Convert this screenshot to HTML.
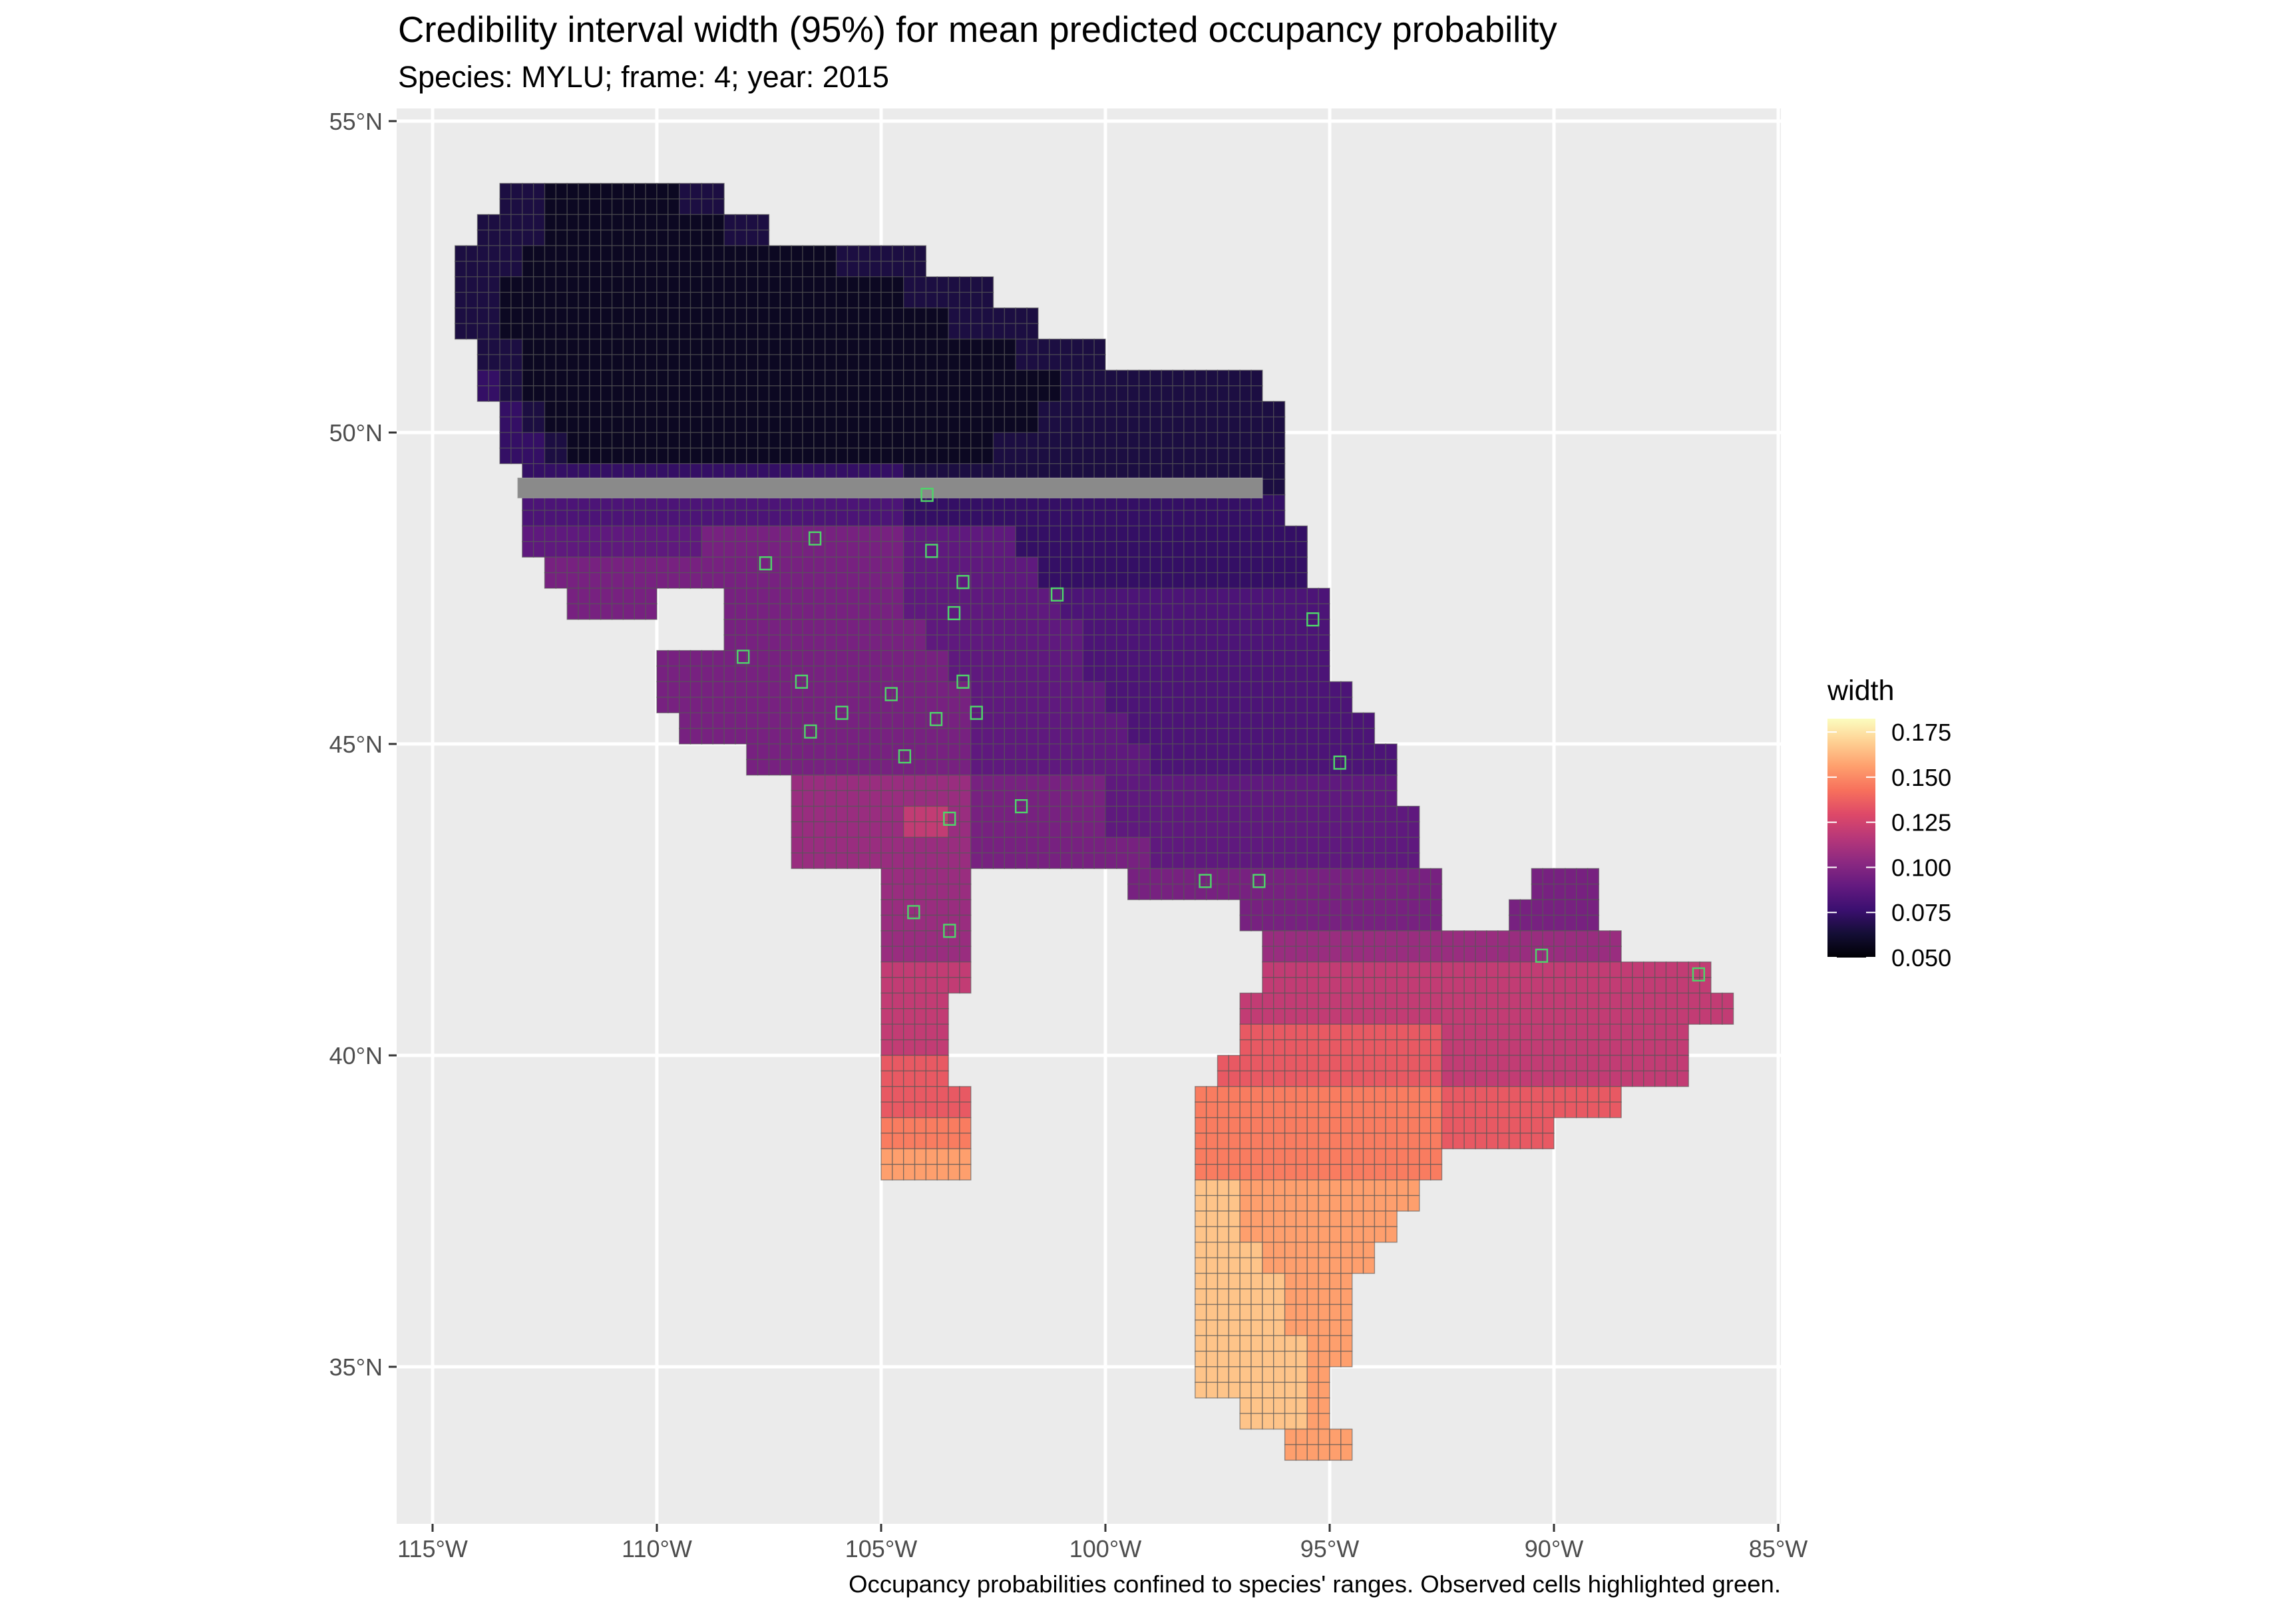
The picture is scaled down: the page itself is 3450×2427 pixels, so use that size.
<!DOCTYPE html>
<html><head><meta charset="utf-8"><title>Credibility interval width</title>
<style>
html,body{margin:0;padding:0;background:#fff;}
svg{display:block;font-family:"Liberation Sans",Arial,sans-serif;}
</style></head>
<body>
<svg id="chart" width="3450" height="2427" viewBox="0 0 3450 2427" xmlns="http://www.w3.org/2000/svg">
<defs>
<linearGradient id="magma" x1="0" y1="1" x2="0" y2="0"></linearGradient>
</defs>
<text x="598" y="63" font-size="54.5" fill="#000">Credibility interval width (95%) for mean predicted occupancy probability</text>
<text x="598" y="131" font-size="45" fill="#000">Species: MYLU; frame: 4; year: 2015</text>
<rect x="596" y="163" width="2080" height="2127" fill="#ebebeb"/>
<g id="grid"></g>
<g id="cells"></g>
<g id="band"></g>
<g id="obs"></g>
<g id="axes"></g>
<g id="legend"></g>
<text x="2676" y="2393" font-size="36.5" text-anchor="end" fill="#000">Occupancy probabilities confined to species' ranges. Observed cells highlighted green.</text>
</svg>
<script>
const lonTicks = [-115, -110, -105, -100, -95, -90, -85];
const lonLabels = ["115°W","110°W","105°W","100°W","95°W","90°W","85°W"];
const latTicks = [55, 50, 45, 40, 35];
const latLabels = ["55°N","50°N","45°N","40°N","35°N"];
const legendTicks = [0.05, 0.075, 0.1, 0.125, 0.15, 0.175];
const legendLabels = ["0.050","0.075","0.100","0.125","0.150","0.175"];
const legendDomain = [0.05, 0.1824];
const levelCodes = "0123456789ab";
const levelValues = [0.058,0.066,0.074,0.082,0.088,0.096,0.107,0.12,0.135,0.146,0.156,0.166];
// grid origin: lat 54.5 top, lon -115 left, 0.5 deg cells; rows of [startCol, codes]
const gridRows = [
 [],
 [[3,"1100000011"]],
 [[2,"1110000000011"]],
 [[1,"111000000000000001111"]],
 [[1,"110000000000000000001111"]],
 [[1,"11000000000000000000001111"]],
 [[2,"1100000000000000000000001111"]],
 [[2,"21000000000000000000000000111111111"]],
 [[3,"21000000000000000000000011111111111"]],
 [[3,"22100000000000000000001111111111111"]],
 [[4,"2222222222222222211111111111111111"]],
 [[4,"3333333333333333322222222222222222"]],
 [[4,"44444444555555555444442222222222222"]],
 [[5,"5555555555555555444444222222222222"]],
 [[6,"5555"],[13,"555555554444444333333333333"]],
 [[13,"555555555444444433333333333"]],
 [[10,"555555555555544444433333333333"]],
 [[10,"5555555555555544444433333333333"]],
 [[11,"5555555555555444444433333333333"]],
 [[14,"55555555554444444433333333333"]],
 [[16,"666666665555554444444444444"]],
 [[16,"6666677655555544444444444444"]],
 [[16,"6666666655555555444444444444"]],
 [[20,"6666"],[31,"55555555555555"],[49,"555"]],
 [[20,"6666"],[36,"555555555"],[48,"5555"]],
 [[20,"6666"],[37,"6666666666666666"]],
 [[20,"7777"],[37,"77777777777777777777"]],
 [[20,"777"],[36,"7777777777777777777777"]],
 [[20,"777"],[36,"88888888877777777777"]],
 [[20,"888"],[35,"888888888877777777777"]],
 [[20,"8888"],[34,"9999999999988888888"]],
 [[20,"9999"],[34,"9999999999988888"]],
 [[20,"aaaa"],[34,"99999999999"]],
 [[34,"bbaaaaaaaa"]],
 [[34,"bbaaaaaaa"]],
 [[34,"bbbaaaaa"]],
 [[34,"bbbbaaa"]],
 [[34,"bbbbaaa"]],
 [[34,"bbbbbaa"]],
 [[34,"bbbbba"]],
 [[36,"bbba"]],
 [[38,"aaa"]]
];
const bandLat = [48.95, 49.27];
const bandLon = [-113.1, -96.5];
const obsLon = [-107.7,-106.6,-104,-103.3,-103.5,-101.2,-108.2,-106.9,-106.7,-106,-104.9,-103.9,-103.3,-103,-104.6,-103.6,-102,-104.4,-103.6,-97.9,-96.7,-94.9,-95.5,-86.9,-90.4,-104.1];
const obsLat = [47.8,48.2,48,47.5,47,47.3,46.3,45.9,45.1,45.4,45.7,45.3,45.9,45.4,44.7,43.7,43.9,42.2,41.9,42.7,42.7,44.6,46.9,41.2,41.5,48.9];

const NS = "http://www.w3.org/2000/svg";
function xs(lon){ return 650 + (lon + 115) * 67.4; }
function ys(lat){ return 182 + (55 - lat) * 93.6; }
const magmaStops = [[0,"#000004"],[0.1,"#140e36"],[0.2,"#3b0f70"],[0.3,"#641a80"],[0.4,"#8c2981"],[0.5,"#b73779"],[0.6,"#de4968"],[0.7,"#f7705c"],[0.8,"#fe9f6d"],[0.9,"#fecf92"],[1,"#fcfdbf"]];
function hex(h){ return [parseInt(h.slice(1,3),16),parseInt(h.slice(3,5),16),parseInt(h.slice(5,7),16)]; }
function magma(v){
  let t = (v - legendDomain[0]) / (legendDomain[1] - legendDomain[0]);
  t = Math.max(0, Math.min(1, t));
  for (let i = 0; i < magmaStops.length - 1; i++) {
    const a = magmaStops[i], b = magmaStops[i+1];
    if (t <= b[0]) {
      const f = (t - a[0]) / (b[0] - a[0]); const ca = hex(a[1]), cb = hex(b[1]);
      return "rgb(" + ca.map((c,k)=>Math.round(c + (cb[k]-c)*f)).join(",") + ")";
    }
  }
  return magmaStops[magmaStops.length-1][1];
}
function mk(tag, attrs, parent){ const e = document.createElementNS(NS, tag); for (const k in attrs) e.setAttribute(k, attrs[k]); parent.appendChild(e); return e; }

const grid = document.getElementById("grid");
lonTicks.forEach(function(l){
  const ln = mk("line", {x1: xs(l), x2: xs(l), y1: 163, y2: 2290, stroke: "#fff", "stroke-width": 5}, grid);
  
  
});
latTicks.forEach(function(l){
  const ln = mk("line", {x1: 596, x2: 2676, y1: ys(l), y2: ys(l), stroke: "#fff", "stroke-width": 5}, grid);
  
  
});

const cells = document.getElementById("cells");
gridRows.forEach(function(segs, r){
  const latTop = 54.5 - 0.5 * r;
  segs.forEach(function(seg){
    const start = seg[0], codes = seg[1];
    for (let i = 0; i < codes.length; i++) {
      const idx = levelCodes.indexOf(codes[i]); if (idx < 0) continue;
      const v = levelValues[idx]; const col = magma(v);
      const lonL = -115 + 0.5 * (start + i);
      for (let a = 0; a < 2; a++) for (let b = 0; b < 2; b++) {
        const x0 = xs(lonL + 0.25*a), x1 = xs(lonL + 0.25*(a+1));
        const y0 = ys(latTop - 0.25*b), y1 = ys(latTop - 0.25*(b+1));
        const rc = mk("rect", {x: x0, y: y0, width: x1-x0, height: y1-y0, fill: col, stroke: "rgba(85,85,85,0.6)", "stroke-width": 1.4}, cells);
        
        
      }
    }
  });
});

const band = document.getElementById("band");
const br = mk("rect", {x: xs(bandLon[0]), y: ys(bandLat[1]), width: xs(bandLon[1]) - xs(bandLon[0]), height: ys(bandLat[0]) - ys(bandLat[1]), fill: "#8a8a8a", stroke: "#9a9a9a", "stroke-width": 1}, band);



const obs = document.getElementById("obs");
obsLon.forEach(function(lon, i){
  const o = mk("rect", {x: xs(lon), y: ys(obsLat[i] + 0.2), width: 0.25*67.4, height: 0.2*93.6, fill: "none", stroke: "#4fd36a", "stroke-width": 2.5}, obs);
  
  
});

const axes = document.getElementById("axes");
lonTicks.forEach(function(l, i){
  const t = mk("line", {x1: xs(l), x2: xs(l), y1: 2290, y2: 2302, stroke: "#333", "stroke-width": 3}, axes);
  
  
  const tx = mk("text", {x: xs(l), y: 2340, "font-size": 36, "text-anchor": "middle", fill: "#4d4d4d"}, axes);
  tx.textContent = lonLabels[i];
  
  
});
latTicks.forEach(function(l, i){
  const t = mk("line", {x1: 584, x2: 596, y1: ys(l), y2: ys(l), stroke: "#333", "stroke-width": 3}, axes);
  
  
  const tx = mk("text", {x: 575, y: ys(l) + 13, "font-size": 36, "text-anchor": "end", fill: "#4d4d4d"}, axes);
  tx.textContent = latLabels[i];
  
  
});

const grad = document.getElementById("magma");
magmaStops.forEach(function(s){ mk("stop", {offset: s[0], "stop-color": s[1]}, grad); });
const lg = document.getElementById("legend");
const lt = mk("text", {x: 2746, y: 1052, "font-size": 43, fill: "#000"}, lg);
lt.textContent = "width";


const barTop = 1080, barBot = 1439;
function ly(v){ return barBot - (v - legendDomain[0]) / (legendDomain[1] - legendDomain[0]) * (barBot - barTop); }
const bar = mk("rect", {x: 2746, y: barTop, width: 72, height: barBot - barTop, fill: "url(#magma)"}, lg);


legendTicks.forEach(function(v, i){
  const y = ly(v);
  const a = mk("line", {x1: 2746, x2: 2760, y1: y, y2: y, stroke: "#fff", "stroke-width": 2}, lg);
  
  
  const b = mk("line", {x1: 2804, x2: 2818, y1: y, y2: y, stroke: "#fff", "stroke-width": 2}, lg);
  
  
  const tx = mk("text", {x: 2842, y: y + 13, "font-size": 36, fill: "#000"}, lg);
  tx.textContent = legendLabels[i];
  
  
});
</script>
</body></html>
